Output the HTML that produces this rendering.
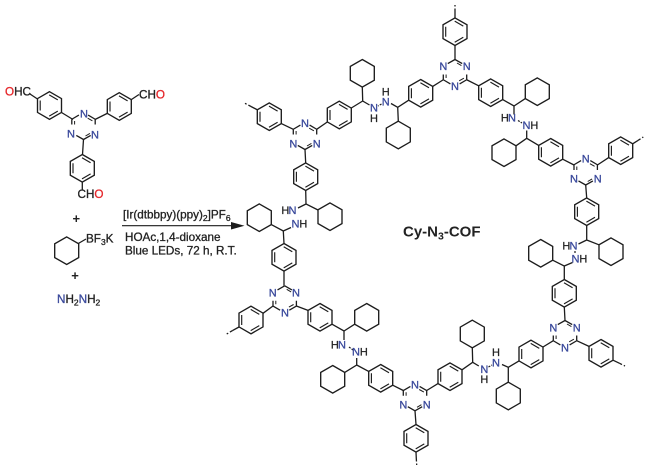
<!DOCTYPE html>
<html><head><meta charset="utf-8"><style>
html,body{margin:0;padding:0;background:#fff}
svg{display:block;filter:blur(.3px)}
text{font-family:"Liberation Sans",sans-serif}
.n{font-size:11px;fill:#3b4a9c;text-anchor:middle;stroke:#3b4a9c;stroke-width:.3}
.h{font-size:11px;fill:#222;text-anchor:middle;stroke:#222;stroke-width:.25}
.t{font-size:11.7px;fill:#222;stroke:#222;stroke-width:.3}
.s{font-size:8.5px}
</style></head><body>
<svg width="650" height="471" viewBox="0 0 650 471" xmlns="http://www.w3.org/2000/svg">
<defs>
<g id="b" fill="none" stroke="#1c1c1c" stroke-width="1.35"><path d="M0-13.8 12-6.9V6.9L0 13.8-12 6.9V-6.9Z"/><path d="M-9.3-5V5M-.3-10.6 8.3-5.6M-.3 10.6 8.3 5.6" stroke-width="1.15"/></g>
<path id="c" d="M0-13.8 12-6.9V6.9L0 13.8-12 6.9V-6.9Z" fill="none" stroke="#1c1c1c" stroke-width="1.35"/>
<g id="a" fill="none" stroke="#1c1c1c" stroke-width="1.3"><path d="M11.7-6.75 4.6-10.9M11.7-6.75V-1.5M0 13.5 7.2 9.4M0 13.5-7.2 9.4M-11.7-6.75V-1.5M-11.7-6.75-4.6-10.9"/><path d="M8.9-5.2 4.2-7.8M-8.9-5V-1.5M2 10 6.4 7.4" stroke-width="1"/></g>
<g id="v" fill="none" stroke="#1c1c1c" stroke-width="1.3"><path d="M11.7 6.75 4.6 10.9M11.7 6.75V1.5M0-13.5 7.2-9.4M0-13.5-7.2-9.4M-11.7 6.75V1.5M-11.7 6.75-4.6 10.9"/><path d="M8.9 5.2 4.2 7.8M-8.9 5V1.5M2-10 6.4-7.4" stroke-width="1"/></g>
</defs>

<!-- rings -->
<use href="#b" x="49.5" y="105.5"/><use href="#b" x="119.3" y="106.5"/><use href="#b" x="82.3" y="168.3"/>
<use href="#b" x="269.3" y="116.7"/><use href="#b" x="339.3" y="115"/><use href="#b" x="305.7" y="176.7"/>
<use href="#b" x="420.7" y="93.3"/><use href="#b" x="455" y="31.7"/><use href="#b" x="490.7" y="92.7"/>
<use href="#b" x="550.7" y="152.3"/><use href="#b" x="620.7" y="150.7"/><use href="#b" x="586.7" y="211.7"/>
<use href="#b" x="564.3" y="293.3"/><use href="#b" x="601" y="353.3"/><use href="#b" x="531" y="354"/>
<use href="#b" x="450" y="376.7"/><use href="#b" x="416" y="438.3"/><use href="#b" x="380.7" y="378.3"/>
<use href="#b" x="320" y="317.3"/><use href="#b" x="251" y="320"/><use href="#b" x="284" y="257.3"/>

<!-- cyclohexanes -->
<use href="#c" x="66.7" y="250.7"/><use href="#c" x="362.3" y="73.3"/><use href="#c" x="398.3" y="135"/>
<use href="#c" x="537.3" y="91.7"/><use href="#c" x="504" y="152.7"/><use href="#c" x="611" y="251.7"/>
<use href="#c" x="540.7" y="253.3"/><use href="#c" x="508.3" y="396"/><use href="#c" x="472.3" y="334"/>
<use href="#c" x="332.7" y="379.3"/><use href="#c" x="366.7" y="317.3"/><use href="#c" x="330" y="216.7"/><use href="#c" x="259.3" y="217.7"/>

<!-- triazines -->
<use href="#a" x="83.5" y="126"/><use href="#a" x="305" y="136"/><use href="#a" x="585.7" y="171.5"/><use href="#a" x="415" y="397.3"/>
<use href="#v" x="455" y="73"/><use href="#v" x="565" y="334"/><use href="#v" x="284.7" y="299.3"/>

<!-- bonds -->
<path fill="none" stroke="#1c1c1c" stroke-width="1.3" d="M37.5 99 30 94M130.7 100 139 94.5M82.3 182V190.5M73 119.5 61.5 112.5M95 119.5 108 113M83.5 139.5 82.5 154.5M78.3 243.5 86 239
M293.3 129.3 281.3 123.6M316.7 129.3 327.3 122M305 149.5 305.7 163M305.7 190.5 306 204 318 210M306 204 298 208
M291 227.5 283.3 231 271.3 224.6M283.3 231 284 243.5M284 271V285.8M273 306 263 313.3M296.4 306 308 310.4M332 324.2 344 331 354.7 324.2M344 331V340
M356.7 358V365L344.7 372.4M356.7 365 368.7 371.4M392.7 385.2 403.3 390.5M426.7 390.5 438 383.6M415 410.8 416 424.5
M462 369.8 472.7 362.3 472.3 347.8M472.7 362.3 478.8 366M502 364.5 508.3 367.3V382.2M508.3 367.3 519 360.9M543 347 553.3 340.7M576.7 340.7 589 346.4
M565 320.5 564.3 307M564.3 279.5V266L552.7 260.2M564.3 266 572.5 262.5M578.5 244 586.7 240 599 244.8M586.7 240V225.5M586.7 198 585.7 185
M574 165 562.7 159.2M597.4 165 608.7 157.6M538.7 145.4 526.7 138.3 516 145.8M526.7 138.3V130.5M514 106V114.5M502.7 99.6 514 106 525.3 98.6
M478.7 85.8 466.7 79.75M443.3 79.75 432.7 86.4M455 59.5V45.5M408.7 100.2 397.7 107.3 398.3 121.2M397.7 107.3 391 103.5M369.5 105 362.7 101 362.3 87M362.7 101 351.3 108"/>
<path fill="none" stroke="#1c1c1c" stroke-width="1.2" stroke-dasharray="2 1.2" d="M349 347 353 350M488.5 367 492 365M575 251V254M518 120.5 522 123M381.5 104 378 106"/>
<path fill="none" stroke="#1c1c1c" stroke-width="1.3" d="M257.7 110 251 106.5M239 327 232.5 330.6M416 452 416.3 458.5M613 360.2 619.3 363.2M632.7 143.8 638 140.4M455 18V11.5"/>
<path fill="none" stroke="#1c1c1c" stroke-width="1.3" stroke-dasharray="3 2" d="M251 106.5 245 103.3M232.5 330.6 226.7 334M416.3 458.5 416.7 465M619.3 363.2 625 366M638 140.4 643.3 137M455 11.5V5"/>

<!-- arrow -->
<path d="M122 225.7H232" stroke="#1c1c1c" stroke-width="1.2"/>
<path d="M231 222 244.5 225.7 231 229.5Z" fill="#1c1c1c"/>

<!-- triazine N -->
<text class="n" x="84" y="117.3">N</text><text class="n" x="71" y="137.3">N</text><text class="n" x="95" y="138.3">N</text>
<text class="n" x="305" y="126.8">N</text><text class="n" x="293.3" y="147.3">N</text><text class="n" x="316.7" y="147.3">N</text>
<text class="n" x="585.7" y="162.3">N</text><text class="n" x="574" y="182.3">N</text><text class="n" x="597.7" y="182.3">N</text>
<text class="n" x="415" y="388.3">N</text><text class="n" x="403.3" y="408.3">N</text><text class="n" x="426.7" y="408.3">N</text>
<text class="n" x="443.3" y="70">N</text><text class="n" x="466.7" y="70">N</text><text class="n" x="455" y="90">N</text>
<text class="n" x="553.3" y="331.3">N</text><text class="n" x="576.7" y="331.3">N</text><text class="n" x="565" y="351.3">N</text>
<text class="n" x="272.7" y="296.3">N</text><text class="n" x="296" y="296.3">N</text><text class="n" x="285" y="316.7">N</text>

<!-- hydrazines -->
<text class="n" x="374" y="111.7">N</text><text class="h" x="374" y="121.9">H</text>
<text class="n" x="385.7" y="105.7">N</text><text class="h" x="385.7" y="95.7">H</text>
<text class="n" x="292.5" y="214">N</text><text class="h" x="285.3" y="214">H</text>
<text class="n" x="295.5" y="227.7">N</text><text class="h" x="303.3" y="227.7">H</text>
<text class="n" x="512" y="121.7">N</text><text class="h" x="504.8" y="121.7">H</text>
<text class="n" x="526.5" y="129">N</text><text class="h" x="534.4" y="129">H</text>
<text class="n" x="573.5" y="249.5">N</text><text class="h" x="566.3" y="249.5">H</text>
<text class="n" x="575.5" y="262.7">N</text><text class="h" x="583.4" y="262.7">H</text>
<text class="n" x="484.3" y="373">N</text><text class="h" x="484.3" y="383.2">H</text>
<text class="n" x="496" y="366.3">N</text><text class="h" x="496" y="356.2">H</text>
<text class="n" x="342" y="348.3">N</text><text class="h" x="334.8" y="348.3">H</text>
<text class="n" x="356" y="355.7">N</text><text class="h" x="363.8" y="355.7">H</text>

<!-- monomer labels -->
<text class="t" x="5" y="95.5"><tspan fill="#e5262a" stroke="#e5262a">O</tspan>HC</text>
<text class="t" x="139" y="98.5">CH<tspan fill="#e5262a" stroke="#e5262a">O</tspan></text>
<text class="t" x="77.5" y="198">CH<tspan fill="#e5262a" stroke="#e5262a">O</tspan></text>
<text x="76.3" y="223" font-size="13" font-weight="700" text-anchor="middle" fill="#222">+</text>
<text x="75" y="280" font-size="13" font-weight="700" text-anchor="middle" fill="#222">+</text>
<text class="t" x="86" y="242.5">BF<tspan class="s" dy="2.5">3</tspan><tspan dy="-2.5">K</tspan></text>
<text class="t" x="57" y="303"><tspan fill="#3b4a9c" stroke="#3b4a9c">N</tspan>H<tspan class="s" dy="2.5">2</tspan><tspan dy="-2.5" fill="#3b4a9c" stroke="#3b4a9c">N</tspan>H<tspan class="s" dy="2.5">2</tspan></text>
<text class="t" x="123" y="218.5">[Ir(dtbbpy)(ppy)<tspan class="s" dy="2.5">2</tspan><tspan dy="-2.5">]PF</tspan><tspan class="s" dy="2.5">6</tspan></text>
<text class="t" x="125" y="241">HOAc,1,4-dioxane</text>
<text class="t" x="125" y="254.5">Blue LEDs, 72 h, R.T.</text>
<text x="403" y="236.5" font-size="15" font-weight="700" fill="#222">Cy-N<tspan font-size="10.5" dy="3">3</tspan><tspan dy="-3">-COF</tspan></text>
</svg>
</body></html>
